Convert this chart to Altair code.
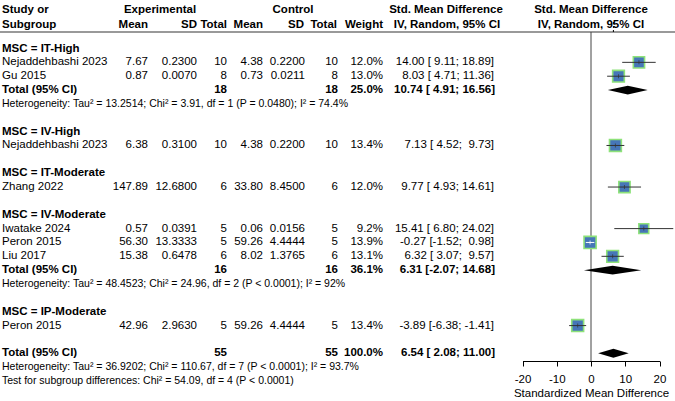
import math
import altair as alt
import pandas as pd

FONT = "Liberation Sans"

# ---------------- data ----------------
study_label = ["Nejaddehbashi 2023", "Gu 2015", "Nejaddehbashi 2023", "Zhang 2022",
               "Iwatake 2024", "Peron 2015", "Liu 2017", "Peron 2015"]
study_row = [1, 2, 7, 10, 13, 14, 15, 20]
exp_mean = ["7.67", "0.87", "6.38", "147.89", "0.57", "56.30", "15.38", "42.96"]
exp_sd = ["0.2300", "0.0070", "0.3100", "12.6800", "0.0391", "13.3333", "0.6478", "2.9630"]
exp_n = [10, 8, 10, 6, 5, 5, 6, 5]
ctl_mean = ["4.38", "0.73", "4.38", "33.80", "0.06", "59.26", "8.02", "59.26"]
ctl_sd = ["0.2200", "0.0211", "0.2200", "8.4500", "0.0156", "4.4444", "1.3765", "4.4444"]
ctl_n = [10, 8, 10, 6, 5, 5, 6, 5]
weight = [12.0, 13.0, 13.4, 12.0, 9.2, 13.9, 13.1, 13.4]
smd = [14.00, 8.03, 7.13, 9.77, 15.41, -0.27, 6.32, -3.89]
smd_lo = [9.11, 4.71, 4.52, 4.93, 6.80, -1.52, 3.07, -6.38]
smd_hi = [18.89, 11.36, 9.73, 14.61, 24.02, 0.98, 9.57, -1.41]

sub_label = ["MSC = IT-High", "MSC = IV-High", "MSC = IT-Moderate",
             "MSC = IV-Moderate", "MSC = IP-Moderate"]
sub_row = [0, 6, 9, 12, 19]

tot_row = [3, 16, 22]
tot_n_exp = [18, 16, 55]
tot_n_ctl = [18, 16, 55]
tot_weight = [25.0, 36.1, 100.0]
tot_smd = [10.74, 6.31, 6.54]
tot_lo = [4.91, -2.07, 2.08]
tot_hi = [16.56, 14.68, 11.00]

het_row = [4, 17, 23, 24]
het_text = [
    "Heterogeneity: Tau\u00b2 = 13.2514; Chi\u00b2 = 3.91, df = 1 (P = 0.0480); I\u00b2 = 74.4%",
    "Heterogeneity: Tau\u00b2 = 48.4523; Chi\u00b2 = 24.96, df = 2 (P < 0.0001); I\u00b2 = 92%",
    "Heterogeneity: Tau\u00b2 = 36.9202; Chi\u00b2 = 110.67, df = 7 (P < 0.0001); I\u00b2 = 93.7%",
    "Test for subgroup differences: Chi\u00b2 = 54.09, df = 4 (P < 0.0001)",
]

x_ticks = [-20, -10, 0, 10, 20]

# ---------------- layout ----------------
W, H = 675, 361
X_RANGE = [522.5, 659.5]
SQ_K = 10.5  # square area per weight percent
NB = "\u00a0"


def ci_str(e, lo, hi):
    return f"{e:.2f} [{lo:5.2f}; {hi:5.2f}]".replace(" ", NB)


studies = pd.DataFrame({
    "label": study_label, "row": study_row,
    "em": exp_mean, "esd": exp_sd, "en": [str(v) for v in exp_n],
    "cm": ctl_mean, "csd": ctl_sd, "cn": [str(v) for v in ctl_n],
    "w": weight, "wtxt": [f"{v:.1f}%" for v in weight],
    "smd": smd, "lo": smd_lo, "hi": smd_hi,
    "ci": [ci_str(e, l, h) for e, l, h in zip(smd, smd_lo, smd_hi)],
})
px_per_unit = (X_RANGE[1] - X_RANGE[0]) / 40.0
half = [math.sqrt(w * SQ_K) / 2 / px_per_unit for w in weight]
studies["col"] = [
    "white" if (e - l) < hw and (h - e) < hw else "#333333"
    for e, l, h, hw in zip(smd, smd_lo, smd_hi, half)
]

subs = pd.DataFrame({"label": sub_label, "row": sub_row})
tots = pd.DataFrame({
    "label": ["Total (95% CI)"] * 3, "row": tot_row,
    "en": [str(v) for v in tot_n_exp], "cn": [str(v) for v in tot_n_ctl],
    "wtxt": [f"{v:.1f}%" for v in tot_weight],
    "ci": [ci_str(e, l, h) for e, l, h in zip(tot_smd, tot_lo, tot_hi)],
})
hets = pd.DataFrame({"label": het_text, "row": het_row})

DH = 0.32
dia_rows = []
for i, (r, e, l, h) in enumerate(zip(tot_row, tot_smd, tot_lo, tot_hi)):
    dia_rows.append({"g": i, "x": l, "y1": r, "y2": r})
    dia_rows.append({"g": i, "x": e, "y1": r - DH, "y2": r + DH})
    dia_rows.append({"g": i, "x": h, "y1": r, "y2": r})
dia = pd.DataFrame(dia_rows)

yscale = alt.Scale(domain=[0, 24], range=[48.5, 381])
xscale = alt.Scale(domain=[-20, 20], range=X_RANGE)
xaxis = alt.Axis(values=x_ticks, tickSize=5, labelPadding=7, titlePadding=3,
                 domainColor="black", tickColor="black", labelColor="black",
                 titleColor="black", labelFontSize=11.5, titleFontSize=11.5,
                 titleFontWeight="normal", labelFont=FONT, titleFont=FONT,
                 grid=False, labelExpr="'' + datum.value", labelFlush=False)
XT = "Standardized Mean Difference"


def Y(f="row:Q"):
    return alt.Y(f, scale=yscale, axis=None)


def X(f):
    return alt.X(f, scale=xscale, axis=xaxis, title=XT)


def txt(df, field, x, align, bold=False, size=11.5):
    return alt.Chart(df).mark_text(
        align=align, baseline="middle", font=FONT, fontSize=size,
        fontWeight="bold" if bold else "normal", color="black"
    ).encode(x=alt.value(x), y=Y(), text=alt.Text(f"{field}:N"))


def head(text, x, y, align):
    return alt.Chart(pd.DataFrame({"t": [text]})).mark_text(
        align=align, baseline="middle", font=FONT, fontSize=11.5,
        fontWeight="bold", color="black"
    ).encode(x=alt.value(x), y=alt.value(y), text="t:N")


layers = []
# headers
layers += [
    head("Study or", 2, 10, "left"), head("Subgroup", 2, 25, "left"),
    head("Experimental", 160, 10, "center"), head("Control", 293, 10, "center"),
    head("Mean", 148, 25, "right"), head("SD", 197, 25, "right"),
    head("Total", 227, 25, "right"), head("Mean", 263, 25, "right"),
    head("SD", 304, 25, "right"), head("Total", 337, 25, "right"),
    head("Weight", 383, 25, "right"),
    head("Std. Mean Difference", 446, 10, "center"),
    head("IV, Random, 95% CI", 447, 25, "center"),
    head("Std. Mean Difference", 591, 10, "center"),
    head("IV, Random, 95% CI", 591, 25, "center"),
]
# header separator line
layers.append(alt.Chart(pd.DataFrame({"a": [0]})).mark_rule(color="#777777", strokeWidth=1.5)
              .encode(x=alt.value(0), x2=alt.value(W), y=alt.value(32)))

# text columns
layers += [
    txt(subs, "label", 2, "left", bold=True),
    txt(studies, "label", 2, "left"),
    txt(studies, "em", 148, "right"), txt(studies, "esd", 197, "right"),
    txt(studies, "en", 227, "right"), txt(studies, "cm", 263, "right"),
    txt(studies, "csd", 305, "right"), txt(studies, "cn", 338, "right"),
    txt(studies, "wtxt", 383, "right"), txt(studies, "ci", 494, "right"),
    txt(tots, "label", 2, "left", bold=True),
    txt(tots, "en", 227, "right", bold=True), txt(tots, "cn", 338, "right", bold=True),
    txt(tots, "wtxt", 383, "right", bold=True), txt(tots, "ci", 495, "right", bold=True),
    txt(hets, "label", 2, "left", size=10.5),
]

# reference lines
layers.append(alt.Chart(pd.DataFrame({"a": [0]})).mark_rule(color="#444444", strokeWidth=1)
              .encode(x=alt.X(datum=0, scale=xscale, axis=xaxis, title=XT),
                      y=alt.value(32), y2=alt.value(H)))
layers.append(alt.Chart(pd.DataFrame({"a": [0]})).mark_rule(color="black", strokeWidth=1, strokeDash=[2, 2])
              .encode(x=alt.X(datum=tot_smd[2], scale=xscale, axis=xaxis, title=XT),
                      y=alt.value(32), y2=alt.Y2(datum=tot_row[2])))

# diamonds
layers.append(alt.Chart(dia).mark_area(color="black", opacity=1)
              .encode(x=X("x:Q"), y=Y("y1:Q"), y2="y2:Q", detail="g:N"))

# squares, CI lines, centre ticks
layers.append(alt.Chart(studies).mark_point(shape="square", filled=True, fill="#4676b8",
                                            stroke="#8ee27a", strokeWidth=1.6, opacity=1)
              .encode(x=X("smd:Q"), y=Y(),
                      size=alt.Size("w:Q", scale=alt.Scale(domain=[0, 14], range=[0, 14 * SQ_K]),
                                    legend=None)))
layers.append(alt.Chart(studies).mark_rule(strokeWidth=1)
              .encode(x=X("lo:Q"), x2="hi:Q", y=Y(), color=alt.Color("col:N", scale=None)))
layers.append(alt.Chart(studies).mark_tick(orient="vertical", size=4, thickness=1)
              .encode(x=X("smd:Q"), y=Y(), color=alt.Color("col:N", scale=None)))

chart = alt.layer(*layers).properties(
    width=W, height=H, autosize="none",
    padding={"left": 0, "top": 0, "right": 0, "bottom": 401 - H},
).configure_view(stroke=None)

chart.save("out.html", embed_options={"renderer": "svg", "actions": False})
